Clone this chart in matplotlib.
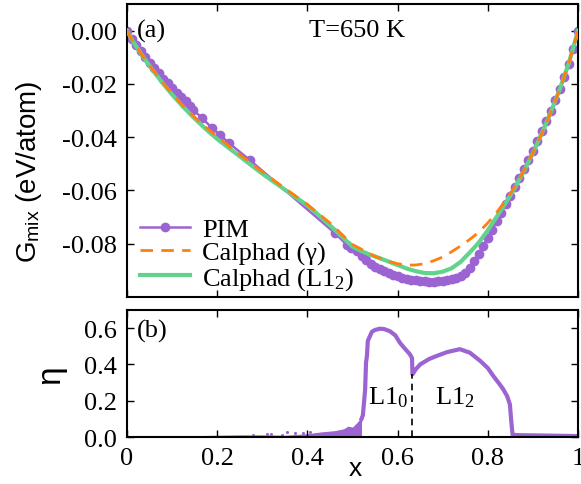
import numpy as np
import matplotlib
matplotlib.use("Agg")
import matplotlib.pyplot as plt

# ── Data ─────────────────────────────────────────────────────────────────────

# PIM free energy of mixing (eV/atom)
pim_x = [0.0, 0.01, 0.02, 0.03, 0.04, 0.05, 0.06, 0.07, 0.08, 0.09, 0.10,
         0.11, 0.12, 0.13, 0.14, 0.147, 0.166, 0.189, 0.206, 0.226, 0.273,
         0.461, 0.488, 0.497, 0.51, 0.52, 0.53, 0.54, 0.55, 0.56, 0.57,
         0.58, 0.59, 0.60, 0.61, 0.62, 0.63, 0.64, 0.65, 0.66, 0.67, 0.68,
         0.69, 0.70, 0.71, 0.72, 0.73, 0.74, 0.75, 0.76, 0.77, 0.78, 0.79,
         0.80, 0.81, 0.82, 0.83, 0.84, 0.85, 0.86, 0.87, 0.88, 0.89, 0.90,
         0.91, 0.92, 0.93, 0.94, 0.95, 0.96, 0.97, 0.98, 0.99, 1.0]
pim_g = [0.0, -0.0030, -0.0055, -0.0078, -0.0100, -0.0120, -0.0140, -0.0160,
         -0.0180, -0.0198, -0.0216, -0.0233, -0.0250, -0.0266, -0.0283,
         -0.0297, -0.0328, -0.0366, -0.0391, -0.0422, -0.0487,
         -0.0760, -0.0805, -0.0816, -0.0828, -0.0848, -0.0862, -0.0875,
         -0.0886, -0.0896, -0.0904, -0.0911, -0.0917, -0.0922, -0.0927,
         -0.0931, -0.0935, -0.0938, -0.0940, -0.0941, -0.0942, -0.0942,
         -0.0941, -0.0939, -0.0937, -0.0934, -0.0929, -0.0922, -0.0910,
         -0.0891, -0.0866, -0.0838, -0.0809, -0.0778, -0.0747, -0.0715,
         -0.0683, -0.0651, -0.0619, -0.0587, -0.0554, -0.0520, -0.0486,
         -0.0451, -0.0415, -0.0378, -0.0340, -0.0300, -0.0260, -0.0218,
         -0.0173, -0.0125, -0.0068, 0.0]

# Calphad gamma phase
gam_x = [0.0, 0.01, 0.02, 0.04, 0.06, 0.08, 0.10, 0.125, 0.15, 0.175, 0.20,
         0.25, 0.30, 0.35, 0.40, 0.45, 0.50, 0.55, 0.58, 0.60, 0.62, 0.64,
         0.66, 0.68, 0.70, 0.72, 0.74, 0.76, 0.78, 0.80, 0.82, 0.84, 0.86,
         0.88, 0.90, 0.92, 0.94, 0.96, 0.98, 1.0]
gam_g = [0.0, -0.0032, -0.0058, -0.0108, -0.0153, -0.0197, -0.0237, -0.0283,
         -0.0325, -0.0363, -0.0398, -0.0465, -0.0530, -0.0592, -0.0653,
         -0.0722, -0.0803, -0.0848, -0.0866, -0.0875, -0.0880, -0.0880,
         -0.0875, -0.0864, -0.0850, -0.0830, -0.0808, -0.0784, -0.0757,
         -0.0722, -0.0682, -0.0636, -0.0586, -0.0526, -0.0459, -0.0386,
         -0.0306, -0.0218, -0.0120, 0.0]

# Calphad L1_2 phase
l12_x = [0.0, 0.01, 0.02, 0.04, 0.06, 0.08, 0.10, 0.125, 0.15, 0.175, 0.20,
         0.25, 0.30, 0.35, 0.40, 0.42, 0.45, 0.50, 0.52, 0.54, 0.56, 0.58,
         0.60, 0.62, 0.64, 0.66, 0.68, 0.70, 0.72, 0.74, 0.76, 0.78, 0.80,
         0.82, 0.84, 0.86, 0.88, 0.90, 0.92, 0.94, 0.96, 0.98, 1.0]
l12_g = [0.0, -0.0032, -0.0058, -0.0109, -0.0155, -0.0199, -0.0240, -0.0287,
         -0.0330, -0.0370, -0.0407, -0.0472, -0.0537, -0.0597, -0.0656,
         -0.0685, -0.0731, -0.0811, -0.0828, -0.0842, -0.0854, -0.0867,
         -0.0880, -0.0893, -0.0903, -0.0910, -0.0911, -0.0905, -0.0892,
         -0.0868, -0.0833, -0.0796, -0.0750, -0.0698, -0.0646, -0.0590,
         -0.0528, -0.0460, -0.0385, -0.0305, -0.0218, -0.0120, 0.0]

# order parameter eta
eta_x = [0.52, 0.523, 0.528, 0.530, 0.532, 0.534, 0.543, 0.55, 0.561, 0.57,
         0.583, 0.595, 0.605, 0.615, 0.627, 0.632, 0.633, 0.64, 0.65, 0.67,
         0.687, 0.71, 0.738, 0.76, 0.783, 0.80, 0.812, 0.825, 0.834, 0.843,
         0.849, 0.852, 0.855, 0.87, 0.90, 0.95, 1.0]
eta_y = [0.10, 0.12, 0.26, 0.41, 0.446, 0.53, 0.58, 0.59, 0.597, 0.595,
         0.583, 0.56, 0.52, 0.49, 0.457, 0.435, 0.345, 0.372, 0.40, 0.43,
         0.447, 0.468, 0.484, 0.465, 0.42, 0.38, 0.337, 0.295, 0.264, 0.225,
         0.18, 0.09, 0.012, 0.010, 0.009, 0.007, 0.005]

# noisy disordered region (upper envelope of the fluctuating band)
noise_x = [0.0, 0.05, 0.10, 0.15, 0.20, 0.25, 0.30, 0.35, 0.40, 0.43, 0.46,
           0.48, 0.49, 0.50, 0.51, 0.52]
noise_top = [0.004, 0.004, 0.005, 0.007, 0.010, 0.012, 0.012, 0.010, 0.018,
             0.028, 0.035, 0.045, 0.060, 0.055, 0.080, 0.110]

dot_x = [0.28, 0.31, 0.32, 0.343, 0.355, 0.372, 0.391, 0.405, 0.42]
dot_eta = [0.012, 0.015, 0.016, 0.011, 0.030, 0.022, 0.020, 0.025, 0.018]

# L1_0 / L1_2 boundary
boundary_x = 0.632
boundary_eta = 0.345

# ── Style ────────────────────────────────────────────────────────────────────

plt.rcParams["font.family"] = ["Liberation Serif", "DejaVu Serif"]
plt.rcParams["mathtext.fontset"] = "custom"
plt.rcParams["mathtext.rm"] = "Liberation Serif"
plt.rcParams["mathtext.it"] = "Liberation Serif:italic"
plt.rcParams["mathtext.sf"] = "Liberation Sans"

PURPLE = "#9c64d2"
ORANGE = "#ff7f0e"
GREEN = "#62d38c"
FS = 19

fig = plt.figure(figsize=(5.81, 4.85), dpi=100)
ax1 = fig.add_axes([0.2186, 0.3856, 0.7762, 0.6041])
ax2 = fig.add_axes([0.2186, 0.0969, 0.7762, 0.2619])

for ax in (ax1, ax2):
    for sp in ax.spines.values():
        sp.set_linewidth(1.5)
    ax.tick_params(direction="in", top=True, right=True, length=5, width=1,
                   labelsize=FS, pad=7)
    ax.set_xlim(0, 1)
    ax.set_xticks([0, 0.2, 0.4, 0.6, 0.8, 1.0])

# ── Panel (a) ────────────────────────────────────────────────────────────────
ax1.plot(pim_x, pim_g, color=PURPLE, lw=1.8, marker="o", ms=6,
         label="PIM", zorder=2)
ax1.plot(l12_x, l12_g, color=GREEN, lw=3, label="Calphad (L1$_2$)", zorder=3)
ax1.plot(gam_x, gam_g, color=ORANGE, lw=2, dashes=(4.5, 3),
         label="Calphad (γ)", zorder=4)
ax1.set_ylim(-0.1, 0.01)
ax1.set_yticks([0.0, -0.02, -0.04, -0.06, -0.08])
ax1.set_yticklabels(["0.00", "-0.02", "-0.04", "-0.06", "-0.08"])
ax1.set_xticklabels([])
ax1.set_ylabel(r"G$_{\mathsf{mix}}$ (eV/atom)", family="Liberation Sans",
               fontsize=20)
ax1.yaxis.set_label_coords(-0.185, 0.43)
ax1.text(0.022, 0.95, "(a)", transform=ax1.transAxes, fontsize=FS,
         va="top", ha="left")
ax1.text(0.51, 0.95, "T=650 K", transform=ax1.transAxes, fontsize=FS,
         va="top", ha="center")

h, l = ax1.get_legend_handles_labels()
order = [0, 2, 1]
ax1.legend([h[i] for i in order], [l[i] for i in order], loc="lower left",
           bbox_to_anchor=(0.0, -0.028), frameon=False, fontsize=FS,
           handlelength=1.9, handletextpad=0.45, labelspacing=0.0,
           borderaxespad=0.1)

# ── Panel (b) ────────────────────────────────────────────────────────────────
ax2.fill_between(noise_x, 0, noise_top, color=PURPLE, lw=0)
ax2.scatter(dot_x, dot_eta, s=5, color=PURPLE, lw=0)
ax2.plot(eta_x, eta_y, color=PURPLE, lw=3, solid_joinstyle="round")
ax2.vlines(boundary_x, 0, boundary_eta, color="black", lw=1.2,
           linestyles=(0, (4, 3)))
ax2.set_ylim(0, 0.7)
ax2.set_yticks([0, 0.2, 0.4, 0.6])
ax2.set_yticklabels(["0.0", "0.2", "0.4", "0.6"])
ax2.set_xticklabels(["0", "0.2", "0.4", "0.6", "0.8", "1"])
ax2.set_ylabel("η", family="Liberation Sans", fontsize=24)
ax2.yaxis.set_label_coords(-0.135, 0.5)
ax2.set_xlabel("x", family="Liberation Sans", fontsize=19)
ax2.xaxis.set_label_coords(0.506, -0.153)
ax2.text(0.022, 0.93, "(b)", transform=ax2.transAxes, fontsize=FS,
         va="top", ha="left")
ax2.text(0.578, 0.22, "L1$_0$", fontsize=FS, ha="center", va="center")
ax2.text(0.727, 0.22, "L1$_2$", fontsize=FS, ha="center", va="center")

fig.savefig("out.png", dpi=100)
